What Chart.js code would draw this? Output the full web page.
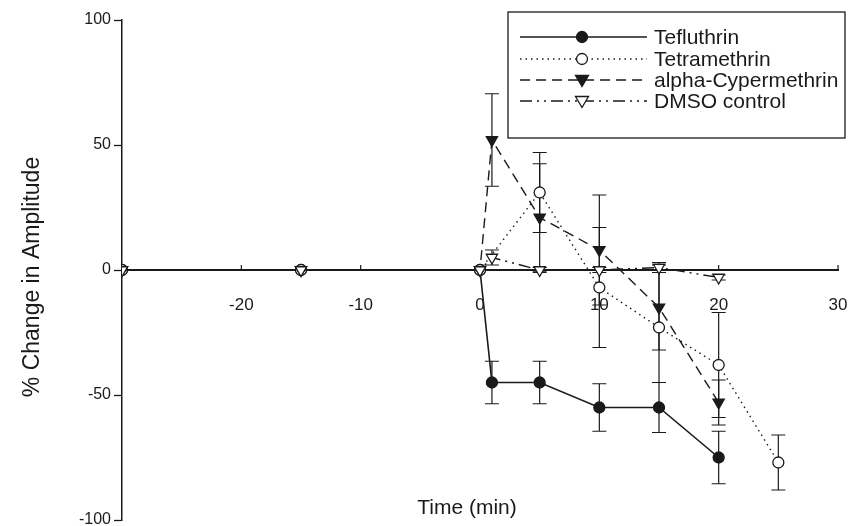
<!DOCTYPE html>
<html>
<head>
<meta charset="utf-8">
<script src="https://cdn.jsdelivr.net/npm/chart.js@4"></script>
<style>
  html, body { margin: 0; padding: 0; background: #fff; }
  canvas { display: block; }
</style>
</head>
<body>
<canvas id="chart" width="852" height="526"></canvas>
<script>
// ---- data ----
const times = [-30, -15, 0, 1, 5, 10, 15, 20];          // Tefluthrin, alpha-Cyper, DMSO
const timesTetra = [-30, -15, 0, 5, 10, 15, 20, 25];    // Tetramethrin

const tefluthrin = [0, 0, 0, -45, -45, -55, -55, -75];
const tefluthrinErr = [0, 0, 0, 8.5, 8.5, 9.5, 10, 10.5];

const tetramethrin = [0, 0, 0, 31, -7, -23, -38, -77];
const tetramethrinErr = [0, 0, 0, 16, 24, 22, 21, 11];

const cypermethrin = [0, 0, 0, 52, 21, 8, -15, -53];
const cypermethrinErr = [0, 0, 0, 18.5, 21.5, 22, 17, 9];

const dmso = [0, 0, 0, 5, 0, 0, 1, -3];
const dmsoErr = [0, 0, 0, 3, 1, 1, 2, 1];

const xTicks = [-20, -10, 0, 10, 20, 30];
const yTicks = [-100, -50, 0, 50, 100];

const INK = "#1a1a1a";
const FONT = "'Liberation Sans', Arial, sans-serif";

function pts(xs, ys, errs) {
  return xs.map((x, i) => ({ x: x, y: ys[i], err: errs[i] }));
}

// Series styles (also used by the hand-drawn legend)
const series = [
  { label: "Tefluthrin", x: times, y: tefluthrin, e: tefluthrinErr,
    dash: [], marker: "circle", fill: INK, order: 3 },
  { label: "Tetramethrin", x: timesTetra, y: tetramethrin, e: tetramethrinErr,
    dash: [1.5, 4], marker: "circle", fill: "#fff", order: 2 },
  { label: "alpha-Cypermethrin", x: times, y: cypermethrin, e: cypermethrinErr,
    dash: [10, 6], marker: "triangle", fill: INK, order: 1 },
  { label: "DMSO control", x: times, y: dmso, e: dmsoErr,
    dash: [12, 5, 2, 5, 2, 5], marker: "triangle", fill: "#fff", order: 0 }
];

/* ---------------------------------------------------------------
   Error bars, upward x ticks, axis titles and the boxed legend
   --------------------------------------------------------------- */
function drawMarker(ctx, kind, fill, x, y) {
  ctx.save();
  ctx.setLineDash([]);
  ctx.lineWidth = 1.3;
  ctx.strokeStyle = INK;
  ctx.fillStyle = fill;
  ctx.beginPath();
  if (kind === "circle") {
    ctx.arc(x, y, 5.5, 0, Math.PI * 2);
  } else {
    ctx.moveTo(x - 6.5, y - 4.5);
    ctx.lineTo(x + 6.5, y - 4.5);
    ctx.lineTo(x, y + 6.5);
    ctx.closePath();
  }
  ctx.fill();
  ctx.stroke();
  ctx.restore();
}

// no automatic label overflow padding: the plot box is fixed
function noPad(s) {
  s.paddingLeft = 0;
  s.paddingRight = 0;
  s.paddingTop = 0;
  s.paddingBottom = 0;
}

const extras = {
  id: "extras",
  beforeDatasetsDraw(chart) {
    const { ctx, scales: { x, y } } = chart;
    ctx.save();
    ctx.strokeStyle = INK;
    ctx.lineWidth = 1.2;
    ctx.setLineDash([]);
    series.forEach(s => {
      s.x.forEach((t, i) => {
        const err = s.e[i];
        if (!err) return;
        const px = x.getPixelForValue(t);
        const top = y.getPixelForValue(s.y[i] + err);
        const bot = y.getPixelForValue(s.y[i] - err);
        ctx.beginPath();
        ctx.moveTo(px, top); ctx.lineTo(px, bot);
        ctx.moveTo(px - 7, top); ctx.lineTo(px + 7, top);
        ctx.moveTo(px - 7, bot); ctx.lineTo(px + 7, bot);
        ctx.stroke();
      });
    });
    // x ticks point up from the zero line
    const y0 = y.getPixelForValue(0);
    xTicks.forEach(t => {
      const px = x.getPixelForValue(t);
      ctx.beginPath();
      ctx.moveTo(px, y0);
      ctx.lineTo(px, y0 - 5);
      ctx.stroke();
    });
    ctx.restore();
  },
  afterDraw(chart) {
    const { ctx } = chart;
    ctx.save();
    ctx.fillStyle = INK;

    // axis titles
    ctx.font = "21px " + FONT;
    ctx.textAlign = "center";
    ctx.textBaseline = "middle";
    ctx.fillText("Time (min)", 467, 508);

    ctx.save();
    ctx.translate(33, 277);
    ctx.rotate(-Math.PI / 2);
    ctx.font = "23px " + FONT;
    ctx.fillText("% Change in Amplitude", 0, 0);
    ctx.restore();

    // legend box
    const bx = 508, by = 12, bw = 337, bh = 126;
    ctx.fillStyle = "#fff";
    ctx.fillRect(bx, by, bw, bh);
    ctx.strokeStyle = INK;
    ctx.lineWidth = 1.3;
    ctx.strokeRect(bx, by, bw, bh);

    const rows = [37, 59, 80, 101];
    series.forEach((s, i) => {
      const ry = rows[i];
      ctx.save();
      ctx.lineWidth = 1.3;
      ctx.setLineDash(s.dash);
      ctx.beginPath();
      ctx.moveTo(520, ry);
      ctx.lineTo(647, ry);
      ctx.stroke();
      ctx.restore();
      drawMarker(ctx, s.marker, s.fill, 582, ry);
      ctx.fillStyle = INK;
      ctx.font = "21px " + FONT;
      ctx.textAlign = "left";
      ctx.textBaseline = "middle";
      ctx.fillText(s.label, 654, ry + 1);
    });
    ctx.restore();
  }
};

const datasets = series.map(s => ({
  label: s.label,
  data: pts(s.x, s.y, s.e),
  borderColor: INK,
  borderWidth: s.dash.length ? 1.4 : 1.6,
  borderDash: s.dash,
  backgroundColor: s.fill,
  pointStyle: s.marker,
  pointRotation: s.marker === "triangle" ? 180 : 0,
  pointRadius: s.marker === "triangle" ? 6.5 : 5.5,
  pointBorderColor: INK,
  pointBackgroundColor: s.fill,
  pointBorderWidth: 1.3,
  tension: 0,
  fill: false,
  order: s.order
}));

new Chart(document.getElementById("chart").getContext("2d"), {
  type: "line",
  data: { datasets },
  plugins: [extras],
  options: {
    responsive: false,
    animation: false,
    devicePixelRatio: 1,
    layout: { autoPadding: false, padding: { left: 0, right: 14, top: 20, bottom: 6 } },
    plugins: {
      legend: { display: false },
      tooltip: { enabled: false }
    },
    scales: {
      x: {
        type: "linear",
        min: -30,
        max: 30,
        position: { y: 0 },
        afterBuildTicks(s) { s.ticks = xTicks.map(v => ({ value: v })); },
        afterFit: noPad,
        ticks: {
          color: INK,
          font: { size: 17, family: FONT },
          padding: 17,
          maxRotation: 0
        },
        grid: { display: false },
        border: { display: true, color: INK, width: 2 }
      },
      y: {
        type: "linear",
        min: -100,
        max: 100,
        position: "left",
        afterBuildTicks(s) { s.ticks = yTicks.map(v => ({ value: v })); },
        afterFit(s) { s.width = 122; noPad(s); },
        ticks: {
          color: INK,
          font: { size: 16, family: FONT },
          padding: 3
        },
        grid: { drawOnChartArea: false, drawTicks: true, tickLength: 8, tickColor: INK, tickWidth: 1.3 },
        border: { display: true, color: INK, width: 1.5 }
      }
    }
  }
});
</script>
</body>
</html>
